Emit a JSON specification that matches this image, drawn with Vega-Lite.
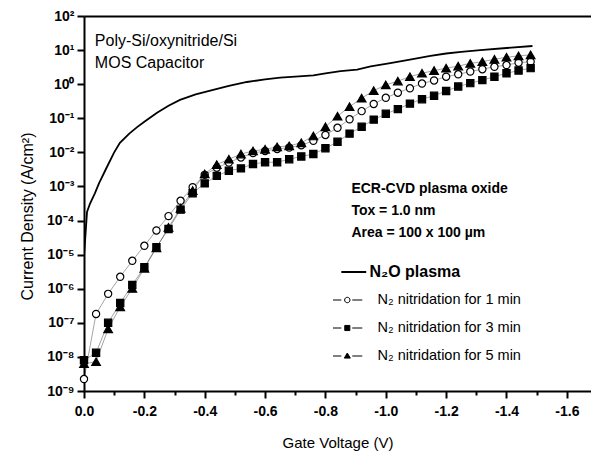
{
  "$schema": "https://vega.github.io/schema/vega-lite/v6.json",
  "width": 507,
  "height": 375,
  "autosize": {"type": "none"},
  "padding": {"left": 84, "top": 16, "right": 0, "bottom": 61},
  "config": {
    "view": {"stroke": null},
    "font": "Liberation Sans"
  },
  "datasets": {
    "curves": [
      {"series": "N₂O plasma", "V": 0, "J": 8.91e-6},
      {"series": "N₂O plasma", "V": -0.005, "J": 3.98e-5},
      {"series": "N₂O plasma", "V": -0.01, "J": 1.78e-4},
      {"series": "N₂O plasma", "V": -0.02, "J": 3.16e-4},
      {"series": "N₂O plasma", "V": -0.036, "J": 6.31e-4},
      {"series": "N₂O plasma", "V": -0.05, "J": 1.26e-3},
      {"series": "N₂O plasma", "V": -0.076, "J": 3.72e-3},
      {"series": "N₂O plasma", "V": -0.1, "J": 1.0e-2},
      {"series": "N₂O plasma", "V": -0.119, "J": 1.91e-2},
      {"series": "N₂O plasma", "V": -0.15, "J": 3.55e-2},
      {"series": "N₂O plasma", "V": -0.176, "J": 5.5e-2},
      {"series": "N₂O plasma", "V": -0.2, "J": 7.94e-2},
      {"series": "N₂O plasma", "V": -0.242, "J": 0.145},
      {"series": "N₂O plasma", "V": -0.28, "J": 0.234},
      {"series": "N₂O plasma", "V": -0.318, "J": 0.347},
      {"series": "N₂O plasma", "V": -0.37, "J": 0.501},
      {"series": "N₂O plasma", "V": -0.428, "J": 0.676},
      {"series": "N₂O plasma", "V": -0.48, "J": 0.891},
      {"series": "N₂O plasma", "V": -0.54, "J": 1.16},
      {"series": "N₂O plasma", "V": -0.6, "J": 1.38},
      {"series": "N₂O plasma", "V": -0.65, "J": 1.55},
      {"series": "N₂O plasma", "V": -0.7, "J": 1.66},
      {"series": "N₂O plasma", "V": -0.76, "J": 1.82},
      {"series": "N₂O plasma", "V": -0.8, "J": 2.09},
      {"series": "N₂O plasma", "V": -0.85, "J": 2.40},
      {"series": "N₂O plasma", "V": -0.905, "J": 2.69},
      {"series": "N₂O plasma", "V": -0.95, "J": 3.31},
      {"series": "N₂O plasma", "V": -1.015, "J": 4.17},
      {"series": "N₂O plasma", "V": -1.08, "J": 5.25},
      {"series": "N₂O plasma", "V": -1.148, "J": 6.76},
      {"series": "N₂O plasma", "V": -1.2, "J": 7.94},
      {"series": "N₂O plasma", "V": -1.25, "J": 8.91},
      {"series": "N₂O plasma", "V": -1.313, "J": 10.0},
      {"series": "N₂O plasma", "V": -1.4, "J": 11.5},
      {"series": "N₂O plasma", "V": -1.486, "J": 13.2},

      {"series": "N₂ nitridation for 1 min", "V": 0, "J": 2.24e-9},
      {"series": "N₂ nitridation for 1 min", "V": -0.04, "J": 1.82e-7},
      {"series": "N₂ nitridation for 1 min", "V": -0.08, "J": 7.08e-7},
      {"series": "N₂ nitridation for 1 min", "V": -0.12, "J": 2.24e-6},
      {"series": "N₂ nitridation for 1 min", "V": -0.16, "J": 6.61e-6},
      {"series": "N₂ nitridation for 1 min", "V": -0.2, "J": 1.82e-5},
      {"series": "N₂ nitridation for 1 min", "V": -0.24, "J": 5.13e-5},
      {"series": "N₂ nitridation for 1 min", "V": -0.28, "J": 1.35e-4},
      {"series": "N₂ nitridation for 1 min", "V": -0.32, "J": 3.80e-4},
      {"series": "N₂ nitridation for 1 min", "V": -0.36, "J": 9.55e-4},
      {"series": "N₂ nitridation for 1 min", "V": -0.4, "J": 2.19e-3},
      {"series": "N₂ nitridation for 1 min", "V": -0.44, "J": 3.55e-3},
      {"series": "N₂ nitridation for 1 min", "V": -0.48, "J": 5.01e-3},
      {"series": "N₂ nitridation for 1 min", "V": -0.52, "J": 7.08e-3},
      {"series": "N₂ nitridation for 1 min", "V": -0.56, "J": 9.55e-3},
      {"series": "N₂ nitridation for 1 min", "V": -0.6, "J": 1.10e-2},
      {"series": "N₂ nitridation for 1 min", "V": -0.64, "J": 1.26e-2},
      {"series": "N₂ nitridation for 1 min", "V": -0.68, "J": 1.38e-2},
      {"series": "N₂ nitridation for 1 min", "V": -0.72, "J": 1.62e-2},
      {"series": "N₂ nitridation for 1 min", "V": -0.76, "J": 2.19e-2},
      {"series": "N₂ nitridation for 1 min", "V": -0.8, "J": 3.24e-2},
      {"series": "N₂ nitridation for 1 min", "V": -0.84, "J": 5.25e-2},
      {"series": "N₂ nitridation for 1 min", "V": -0.88, "J": 9.33e-2},
      {"series": "N₂ nitridation for 1 min", "V": -0.92, "J": 0.162},
      {"series": "N₂ nitridation for 1 min", "V": -0.96, "J": 0.263},
      {"series": "N₂ nitridation for 1 min", "V": -1.0, "J": 0.398},
      {"series": "N₂ nitridation for 1 min", "V": -1.04, "J": 0.562},
      {"series": "N₂ nitridation for 1 min", "V": -1.08, "J": 0.759},
      {"series": "N₂ nitridation for 1 min", "V": -1.12, "J": 1.047},
      {"series": "N₂ nitridation for 1 min", "V": -1.16, "J": 1.288},
      {"series": "N₂ nitridation for 1 min", "V": -1.2, "J": 1.66},
      {"series": "N₂ nitridation for 1 min", "V": -1.24, "J": 1.95},
      {"series": "N₂ nitridation for 1 min", "V": -1.28, "J": 2.34},
      {"series": "N₂ nitridation for 1 min", "V": -1.32, "J": 2.75},
      {"series": "N₂ nitridation for 1 min", "V": -1.36, "J": 3.24},
      {"series": "N₂ nitridation for 1 min", "V": -1.4, "J": 3.63},
      {"series": "N₂ nitridation for 1 min", "V": -1.44, "J": 4.27},
      {"series": "N₂ nitridation for 1 min", "V": -1.48, "J": 4.57},

      {"series": "N₂ nitridation for 3 min", "V": 0, "J": 7.94e-9},
      {"series": "N₂ nitridation for 3 min", "V": -0.04, "J": 1.32e-8},
      {"series": "N₂ nitridation for 3 min", "V": -0.08, "J": 1.0e-7},
      {"series": "N₂ nitridation for 3 min", "V": -0.12, "J": 3.80e-7},
      {"series": "N₂ nitridation for 3 min", "V": -0.16, "J": 1.29e-6},
      {"series": "N₂ nitridation for 3 min", "V": -0.2, "J": 4.27e-6},
      {"series": "N₂ nitridation for 3 min", "V": -0.24, "J": 1.66e-5},
      {"series": "N₂ nitridation for 3 min", "V": -0.28, "J": 5.62e-5},
      {"series": "N₂ nitridation for 3 min", "V": -0.32, "J": 2.09e-4},
      {"series": "N₂ nitridation for 3 min", "V": -0.36, "J": 6.31e-4},
      {"series": "N₂ nitridation for 3 min", "V": -0.4, "J": 1.23e-3},
      {"series": "N₂ nitridation for 3 min", "V": -0.44, "J": 2.04e-3},
      {"series": "N₂ nitridation for 3 min", "V": -0.48, "J": 2.88e-3},
      {"series": "N₂ nitridation for 3 min", "V": -0.52, "J": 3.39e-3},
      {"series": "N₂ nitridation for 3 min", "V": -0.56, "J": 4.57e-3},
      {"series": "N₂ nitridation for 3 min", "V": -0.6, "J": 5.13e-3},
      {"series": "N₂ nitridation for 3 min", "V": -0.64, "J": 5.13e-3},
      {"series": "N₂ nitridation for 3 min", "V": -0.68, "J": 6.31e-3},
      {"series": "N₂ nitridation for 3 min", "V": -0.72, "J": 7.59e-3},
      {"series": "N₂ nitridation for 3 min", "V": -0.76, "J": 8.91e-3},
      {"series": "N₂ nitridation for 3 min", "V": -0.8, "J": 1.32e-2},
      {"series": "N₂ nitridation for 3 min", "V": -0.84, "J": 2.04e-2},
      {"series": "N₂ nitridation for 3 min", "V": -0.88, "J": 3.55e-2},
      {"series": "N₂ nitridation for 3 min", "V": -0.92, "J": 5.62e-2},
      {"series": "N₂ nitridation for 3 min", "V": -0.96, "J": 9.12e-2},
      {"series": "N₂ nitridation for 3 min", "V": -1.0, "J": 0.135},
      {"series": "N₂ nitridation for 3 min", "V": -1.04, "J": 0.186},
      {"series": "N₂ nitridation for 3 min", "V": -1.08, "J": 0.269},
      {"series": "N₂ nitridation for 3 min", "V": -1.12, "J": 0.363},
      {"series": "N₂ nitridation for 3 min", "V": -1.16, "J": 0.457},
      {"series": "N₂ nitridation for 3 min", "V": -1.2, "J": 0.631},
      {"series": "N₂ nitridation for 3 min", "V": -1.24, "J": 0.851},
      {"series": "N₂ nitridation for 3 min", "V": -1.28, "J": 1.072},
      {"series": "N₂ nitridation for 3 min", "V": -1.32, "J": 1.318},
      {"series": "N₂ nitridation for 3 min", "V": -1.36, "J": 1.66},
      {"series": "N₂ nitridation for 3 min", "V": -1.4, "J": 2.09},
      {"series": "N₂ nitridation for 3 min", "V": -1.44, "J": 2.51},
      {"series": "N₂ nitridation for 3 min", "V": -1.48, "J": 2.95},

      {"series": "N₂ nitridation for 5 min", "V": 0, "J": 6.31e-9},
      {"series": "N₂ nitridation for 5 min", "V": -0.04, "J": 7.24e-9},
      {"series": "N₂ nitridation for 5 min", "V": -0.08, "J": 6.61e-8},
      {"series": "N₂ nitridation for 5 min", "V": -0.12, "J": 2.95e-7},
      {"series": "N₂ nitridation for 5 min", "V": -0.16, "J": 1.02e-6},
      {"series": "N₂ nitridation for 5 min", "V": -0.2, "J": 3.98e-6},
      {"series": "N₂ nitridation for 5 min", "V": -0.24, "J": 1.58e-5},
      {"series": "N₂ nitridation for 5 min", "V": -0.28, "J": 6.31e-5},
      {"series": "N₂ nitridation for 5 min", "V": -0.32, "J": 2.29e-4},
      {"series": "N₂ nitridation for 5 min", "V": -0.36, "J": 7.59e-4},
      {"series": "N₂ nitridation for 5 min", "V": -0.4, "J": 2.34e-3},
      {"series": "N₂ nitridation for 5 min", "V": -0.44, "J": 4.37e-3},
      {"series": "N₂ nitridation for 5 min", "V": -0.48, "J": 6.31e-3},
      {"series": "N₂ nitridation for 5 min", "V": -0.52, "J": 8.91e-3},
      {"series": "N₂ nitridation for 5 min", "V": -0.56, "J": 1.10e-2},
      {"series": "N₂ nitridation for 5 min", "V": -0.6, "J": 1.23e-2},
      {"series": "N₂ nitridation for 5 min", "V": -0.64, "J": 1.45e-2},
      {"series": "N₂ nitridation for 5 min", "V": -0.68, "J": 1.55e-2},
      {"series": "N₂ nitridation for 5 min", "V": -0.72, "J": 1.91e-2},
      {"series": "N₂ nitridation for 5 min", "V": -0.76, "J": 3.02e-2},
      {"series": "N₂ nitridation for 5 min", "V": -0.8, "J": 5.62e-2},
      {"series": "N₂ nitridation for 5 min", "V": -0.84, "J": 0.115},
      {"series": "N₂ nitridation for 5 min", "V": -0.88, "J": 0.219},
      {"series": "N₂ nitridation for 5 min", "V": -0.92, "J": 0.389},
      {"series": "N₂ nitridation for 5 min", "V": -0.96, "J": 0.646},
      {"series": "N₂ nitridation for 5 min", "V": -1.0, "J": 0.955},
      {"series": "N₂ nitridation for 5 min", "V": -1.04, "J": 1.23},
      {"series": "N₂ nitridation for 5 min", "V": -1.08, "J": 1.66},
      {"series": "N₂ nitridation for 5 min", "V": -1.12, "J": 2.09},
      {"series": "N₂ nitridation for 5 min", "V": -1.16, "J": 2.51},
      {"series": "N₂ nitridation for 5 min", "V": -1.2, "J": 2.95},
      {"series": "N₂ nitridation for 5 min", "V": -1.24, "J": 3.39},
      {"series": "N₂ nitridation for 5 min", "V": -1.28, "J": 4.07},
      {"series": "N₂ nitridation for 5 min", "V": -1.32, "J": 4.57},
      {"series": "N₂ nitridation for 5 min", "V": -1.36, "J": 5.37},
      {"series": "N₂ nitridation for 5 min", "V": -1.4, "J": 6.17},
      {"series": "N₂ nitridation for 5 min", "V": -1.44, "J": 6.76},
      {"series": "N₂ nitridation for 5 min", "V": -1.48, "J": 7.24}
    ]
  },
  "resolve": {"axis": {"x": "independent"}},
  "layer": [
    {
      "data": {"name": "curves"},
      "mark": {"type": "line", "clip": true},
      "encoding": {
        "x": {
          "field": "V", "type": "quantitative",
          "scale": {"domain": [0, -1.68], "nice": false, "zero": false},
          "axis": {
            "orient": "bottom",
            "values": [0, -0.1, -0.2, -0.3, -0.4, -0.5, -0.6, -0.7, -0.8, -0.9, -1.0, -1.1, -1.2, -1.3, -1.4, -1.5, -1.6],
            "labelExpr": "abs(round(datum.value*10)) % 2 == 0 ? replace(format(datum.value, '.1f'), '−', '-') : ''",
            "title": "Gate Voltage (V)",
            "titleFontSize": 15, "titleFontWeight": "normal", "titleColor": "black",
            "titleY": 51, "titleBaseline": "middle",
            "labelFontSize": 14, "labelFontWeight": "bold", "labelColor": "black",
            "labelPadding": 6, "labelFlush": false, "labelOverlap": false,
            "tickSize": {"condition": {"test": "abs(round(datum.value*10)) % 2 == 0", "value": 7}, "value": 4},
            "tickWidth": 2, "tickColor": "black",
            "domainColor": "black", "domainWidth": 2, "grid": false
          }
        },
        "y": {
          "field": "J", "type": "quantitative",
          "scale": {"type": "log", "domain": [1e-9, 100], "nice": false},
          "axis": {
            "values": [1e-9, 1e-8, 1e-7, 1e-6, 1e-5, 1e-4, 1e-3, 1e-2, 1e-1, 1, 10, 100],
            "labelExpr": "'10' + replace(replace(replace(replace(replace(replace(replace(replace(replace(replace(replace(toString(round(log(datum.value)/LN10)), '-', '⁻'), '0', '⁰'), '1', '¹'), '2', '²'), '3', '³'), '4', '⁴'), '5', '⁵'), '6', '⁶'), '7', '⁷'), '8', '⁸'), '9', '⁹')",
            "title": "Current Density (A/cm²)",
            "titleFontSize": 16, "titleFontWeight": "normal", "titleColor": "black",
            "titleX": -57, "titleY": 200, "titleBaseline": "middle", "titleAngle": -90, "titleAlign": "center",
            "labelFontSize": 14, "labelFontWeight": "bold", "labelColor": "black",
            "labelPadding": 3, "labelFlush": false, "labelOverlap": false,
            "tickSize": 7, "tickWidth": 2, "tickColor": "black",
            "domainColor": "black", "domainWidth": 2, "grid": false
          }
        },
        "detail": {"field": "series"},
        "color": {
          "field": "series", "type": "nominal",
          "scale": {
            "domain": ["N₂O plasma", "N₂ nitridation for 1 min", "N₂ nitridation for 3 min", "N₂ nitridation for 5 min"],
            "range": ["black", "black", "black", "black"]
          },
          "legend": {
            "orient": "none", "legendX": 249, "legendY": 242,
            "title": null, "padding": 0,
            "symbolSize": 900, "clipHeight": 28, "rowPadding": 0,
            "labelFontSize": 14.5, "labelColor": "black", "labelOffset": 30, "labelLimit": 400,
            "encode": {
              "symbols": {
                "update": {
                  "shape": {"signal": "datum.value === 'N₂O plasma' ? 'M0.07,0H1.73' : datum.value === 'N₂ nitridation for 1 min' ? 'M-0.53,0H0.07M0.8,0H1.47M0.65,0A0.18,0.18 0 1,1 0.29,0A0.18,0.18 0 1,1 0.65,0Z' : datum.value === 'N₂ nitridation for 3 min' ? 'M-0.53,0H0.07M0.8,0H1.47M0.3,-0.17H0.64V0.17H0.3Z' : 'M-0.53,0H0.07M0.8,0H1.47M0.47,-0.2L0.67,0.14H0.27Z'"},
                  "fill": {"signal": "datum.value === 'N₂ nitridation for 1 min' ? 'white' : 'black'"},
                  "stroke": {"value": "black"},
                  "strokeWidth": {"signal": "datum.value === 'N₂O plasma' ? 2 : 1"},
                  "size": {"value": 900},
                  "opacity": {"value": 1}
                }
              },
              "labels": {
                "update": {
                  "fontWeight": {"signal": "datum.value === 'N₂O plasma' ? 'bold' : 'normal'"},
                  "fontSize": {"signal": "datum.value === 'N₂O plasma' ? 16 : 14.5"},
                  "dx": {"signal": "datum.value === 'N₂O plasma' ? -8 : 0"}
                }
              }
            }
          }
        },
        "strokeWidth": {"condition": {"test": "datum.series === 'N₂O plasma'", "value": 1.8}, "value": 0.6},
        "strokeOpacity": {"condition": {"test": "datum.series === 'N₂O plasma'", "value": 1}, "value": 0.6}
      }
    },
    {
      "data": {"name": "curves"},
      "transform": [{"filter": "datum.series !== 'N₂O plasma'"}],
      "mark": {"type": "point", "filled": false, "stroke": "black", "strokeWidth": 1.2, "opacity": 1},
      "encoding": {
        "x": {
          "field": "V", "type": "quantitative",
          "axis": {"orient": "top", "ticks": false, "labels": false, "title": null, "domainColor": "black", "domainWidth": 2, "grid": false}
        },
        "y": {"field": "J", "type": "quantitative"},
        "shape": {
          "field": "series", "type": "nominal",
          "scale": {
            "domain": ["N₂ nitridation for 1 min", "N₂ nitridation for 3 min", "N₂ nitridation for 5 min"],
            "range": ["circle", "square", "triangle-up"]
          },
          "legend": null
        },
        "fill": {"condition": {"test": "datum.series === 'N₂ nitridation for 1 min'", "value": "white"}, "value": "black"},
        "size": {
          "condition": [
            {"test": "datum.series === 'N₂ nitridation for 1 min'", "value": 52},
            {"test": "datum.series === 'N₂ nitridation for 5 min'", "value": 75}
          ],
          "value": 52
        }
      }
    },
    {
      "data": {"values": [{}]},
      "mark": {"type": "text", "align": "left", "baseline": "alphabetic", "fontSize": 16, "lineHeight": 22, "color": "black",
               "text": ["Poly-Si/oxynitride/Si", "MOS Capacitor"]},
      "encoding": {
        "x": {"datum": -0.036, "type": "quantitative", "axis": null},
        "y": {"datum": 13.6, "type": "quantitative"}
      }
    },
    {
      "data": {"values": [{}]},
      "mark": {"type": "text", "align": "left", "baseline": "alphabetic", "fontSize": 14, "fontWeight": "bold", "lineHeight": 22, "color": "black",
               "text": ["ECR-CVD plasma oxide", "Tox = 1.0 nm", "Area = 100 x 100 µm"]},
      "encoding": {
        "x": {"datum": -0.886, "type": "quantitative", "axis": null},
        "y": {"datum": 6.46e-4, "type": "quantitative"}
      }
    }
  ]
}
